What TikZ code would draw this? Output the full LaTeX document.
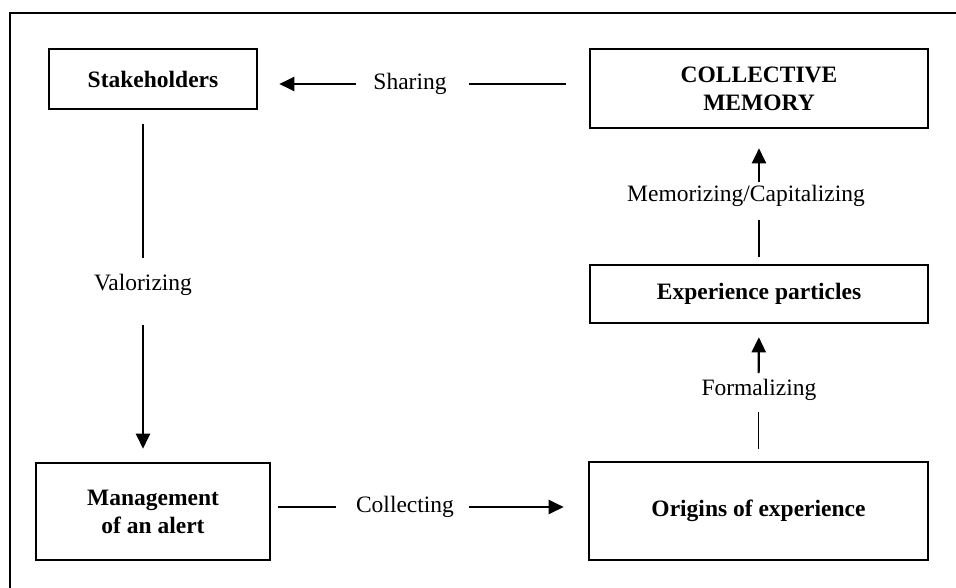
\documentclass[tikz,border=0pt]{standalone}
\usepackage{fontspec}
\setmainfont{Liberation Serif}
\usetikzlibrary{arrows.meta}
\begin{document}
\begin{tikzpicture}[x=1pt,y=-1pt,
  box/.style={draw=black,line width=2.6pt,inner sep=0pt,align=center,font=\fontsize{23.5}{28}\selectfont\bfseries},
  lbl/.style={inner sep=0pt,font=\fontsize{23.5}{28}\selectfont},
  plain/.style={line width=1.4pt},
  arr/.style={line width=2.2pt,-{Triangle[length=15pt,width=14pt]}},
  frame/.style={line width=2pt}]
\useasboundingbox (0,0) rectangle (956,587);
\draw[frame] (960,13) -- (10,13) -- (10,590);
% boxes
\node[box,minimum width=208pt,minimum height=60pt] (st) at (153,79) {Stakeholders};
\node[box,minimum width=338pt,minimum height=79pt] (cm) at (759,88.5) {COLLECTIVE\\MEMORY};
\node[box,minimum width=338pt,minimum height=58pt] (ep) at (759,294) {Experience particles};
\node[box,minimum width=339pt,minimum height=98pt] (og) at (758.5,511) {Origins of experience};
\node[box,minimum width=234pt,minimum height=97pt] (mg) at (153,511.5) {Management\\of an alert};
% labels
\node[lbl] (sh) at (410,84) {Sharing};
\node[lbl] (val) at (143,285) {Valorizing};
\node[lbl] (col) at (405,507) {Collecting};
\node[lbl] (form) at (759,390) {Formalizing};
\node[lbl] (mem) at (746,196) {Memorizing/Capitalizing};
% connectors
\draw[plain,shorten <=23pt,shorten >=59pt] (cm.west |- sh.center) -- (sh.center);
\draw[arr,shorten <=54pt,shorten >=21pt] (sh.center) -- (st.east |- sh.center);
\draw[plain,shorten <=14pt,shorten >=27pt] (st.south -| val.center) -- (val.center);
\draw[arr,shorten <=40pt,shorten >=13pt] (val.center) -- (val.center |- mg.north);
\draw[plain,shorten <=7pt,shorten >=69pt] (mg.east |- col.center) -- (col.center);
\draw[arr,shorten <=64pt,shorten >=24pt] (col.center) -- (og.west |- col.center);
\draw[plain,shorten <=12pt,shorten >=22pt] (og.north) -- (og.north |- form.center);
\draw[arr,shorten <=17pt,shorten >=13pt] (og.north |- form.center) -- (ep.south);
\draw[plain,shorten <=7pt,shorten >=24pt] (ep.north) -- (ep.north |- mem.center);
\draw[arr,shorten <=14pt,shorten >=19pt] (ep.north |- mem.center) -- (cm.south);
\end{tikzpicture}
\end{document}
